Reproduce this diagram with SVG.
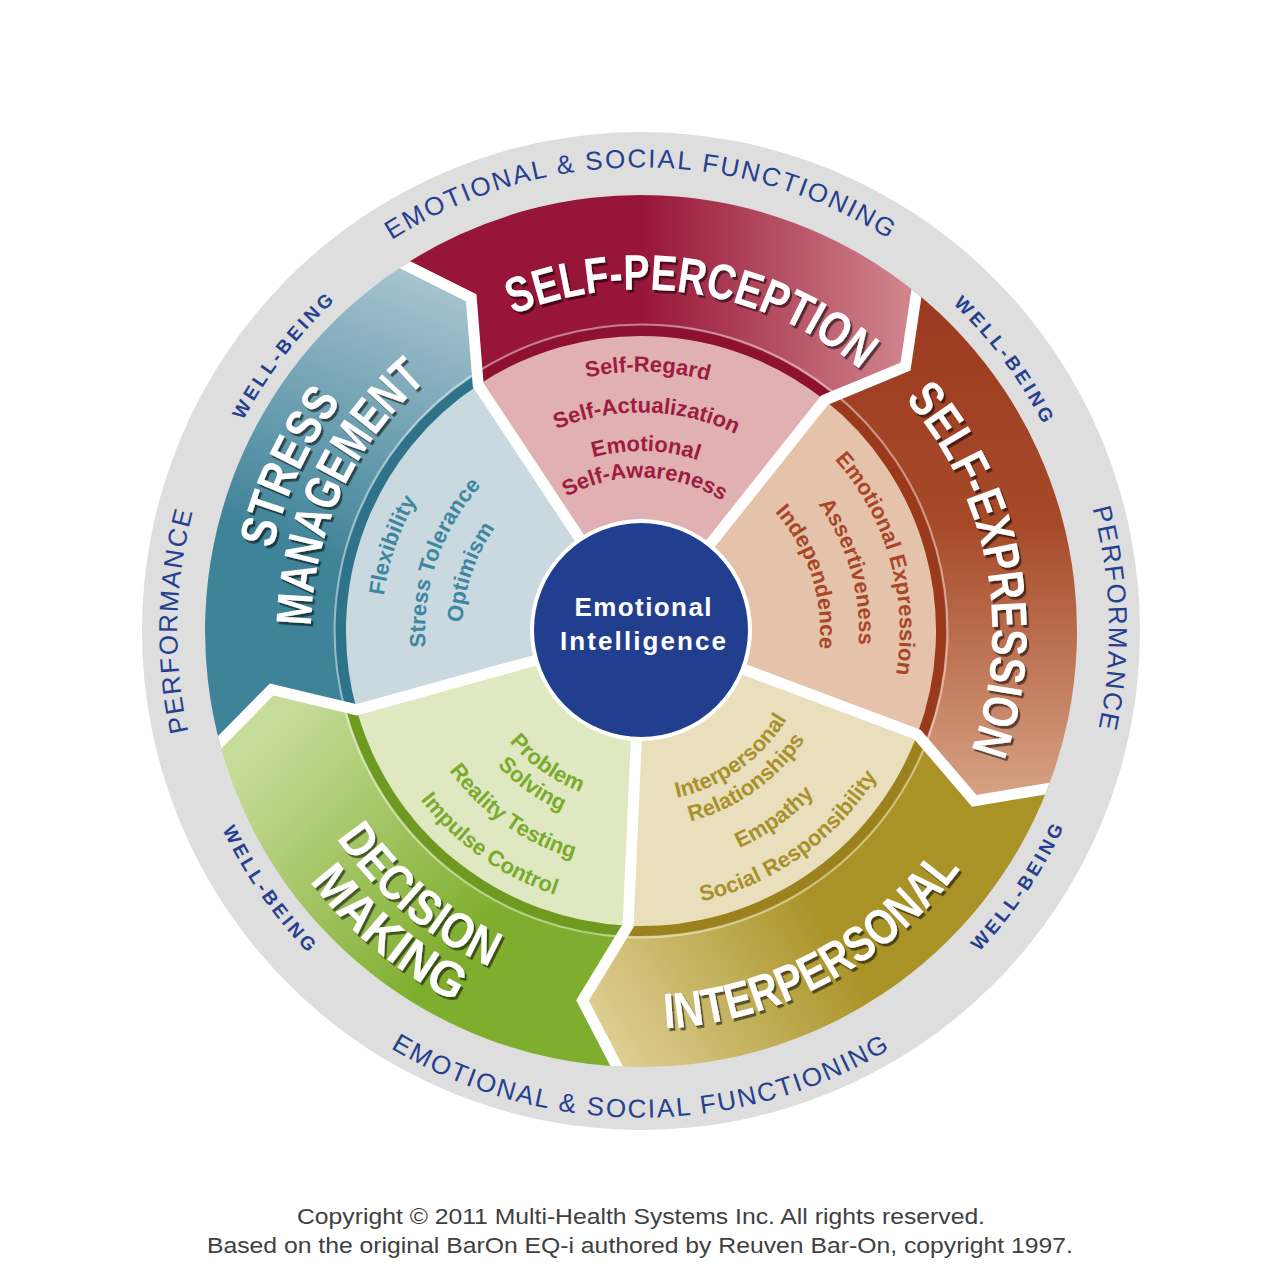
<svg xmlns="http://www.w3.org/2000/svg" width="1280" height="1280" viewBox="0 0 1280 1280">
<defs>
<style>
.ttl{font-family:"Liberation Sans",Arial,sans-serif;font-weight:bold;font-size:50px;fill:#fff;filter:url(#sh);text-anchor:middle}
.in{font-family:"Liberation Sans",Arial,sans-serif;font-weight:bold;font-size:22px;text-anchor:middle}
.out{font-family:"Liberation Sans",Arial,sans-serif;font-size:26px;fill:#25408f;letter-spacing:2px;text-anchor:middle}
.wb{font-family:"Liberation Sans",Arial,sans-serif;font-weight:bold;font-size:19px;fill:#25408f;letter-spacing:3.4px;text-anchor:middle}
.band{fill:none;stroke-width:10}
.hl{fill:none;stroke-width:2;stroke:#fff;stroke-opacity:0.45}
.div{fill:none;stroke:#fff;stroke-width:11;stroke-linejoin:miter}
.foot{font-family:"Liberation Sans",Arial,sans-serif;font-size:22px;fill:#404040;text-anchor:middle}
</style>
<filter id="sh" x="-10%" y="-20%" width="125%" height="150%"><feDropShadow dx="2.2" dy="2.8" stdDeviation="0.7" flood-color="#000" flood-opacity="0.55"/></filter>
<clipPath id="clipOuter"><circle cx="641" cy="631" r="436"/></clipPath>
<linearGradient id="gSP" gradientUnits="userSpaceOnUse" x1="640" y1="0" x2="905" y2="0"><stop offset="0" stop-color="#971537"/><stop offset="1" stop-color="#d0848c"/></linearGradient>
<linearGradient id="gSE" gradientUnits="userSpaceOnUse" x1="0" y1="300" x2="0" y2="800"><stop offset="0" stop-color="#9c3a1f"/><stop offset="0.45" stop-color="#a64a29"/><stop offset="1" stop-color="#d7a386"/></linearGradient>
<linearGradient id="gIP" gradientUnits="userSpaceOnUse" x1="610" y1="1060" x2="830" y2="920"><stop offset="0" stop-color="#dfd096"/><stop offset="1" stop-color="#a99326"/></linearGradient>
<linearGradient id="gDM" gradientUnits="userSpaceOnUse" x1="240" y1="760" x2="450" y2="960"><stop offset="0" stop-color="#c8dc9a"/><stop offset="1" stop-color="#7fae2e"/></linearGradient>
<linearGradient id="gSM" gradientUnits="userSpaceOnUse" x1="440" y1="280" x2="330" y2="560"><stop offset="0" stop-color="#a8c4d0"/><stop offset="1" stop-color="#3f8399"/></linearGradient>
<path id="pO1" d="M178.8,590.6 A464,464 0 0 1 1103.2,590.6"/>
<path id="pO2" d="M156.8,673.4 A486,486 0 0 0 1125.2,673.4"/>
<path id="pO3" d="M590.1,1092.2 A464,464 0 0 1 611.1,168.0"/>
<path id="pO4" d="M669.6,163.9 A468,468 0 0 1 694.0,1096.0"/>
<path id="pW1" d="M335.8,961.7 A450,450 0 0 1 884.1,252.3"/>
<path id="pW2" d="M404.2,246.0 A452,452 0 0 1 941.1,969.0"/>
<path id="pW3" d="M344.0,275.8 A463,463 0 0 0 871.8,1032.4"/>
<path id="pW4" d="M415.1,1038.6 A466,466 0 0 0 934.3,268.9"/>
<path id="pT1" d="M310.1,548.5 A341,341 0 0 1 981.2,654.8"/>
<path id="pT2" d="M606.1,281.7 A351,351 0 0 1 736.0,968.9"/>
<path id="pT3" d="M308.7,850.1 A398,398 0 0 0 1006.3,473.0"/>
<path id="pT4" d="M339.5,419.9 A368,368 0 0 0 901.2,891.2"/>
<path id="pT5" d="M300.2,394.2 A415,415 0 0 0 935.5,923.4"/>
<path id="pT6" d="M452.5,957.5 A377,377 0 0 1 769.9,276.7"/>
<path id="pT7" d="M475.0,916.2 A330,330 0 0 1 754.9,321.3"/>
<path id="pA1" d="M383.2,601.6 A259.5,259.5 0 0 1 900.0,615.2"/>
<path id="pA2" d="M423.9,606.3 A218.5,218.5 0 0 1 859.1,617.7"/>
<path id="pA3" d="M462.2,610.6 A180,180 0 0 1 820.7,620.0"/>
<path id="pA4" d="M488.5,613.6 A153.5,153.5 0 0 1 794.2,621.6"/>
<path id="pB1" d="M591.6,376.8 A259,259 0 0 1 733.8,872.8"/>
<path id="pB2" d="M599.4,417.0 A218,218 0 0 1 719.1,834.5"/>
<path id="pB3" d="M600.7,456.6 A179,179 0 0 1 710.9,795.8"/>
<path id="pC1" d="M511.0,742.0 A171,171 0 0 0 788.3,544.2"/>
<path id="pC2" d="M491.2,758.9 A197,197 0 0 0 810.7,531.0"/>
<path id="pC3" d="M460.0,785.6 A238,238 0 0 0 846.1,510.2"/>
<path id="pC4" d="M430.4,810.9 A277,277 0 0 0 879.7,490.4"/>
<path id="pD1" d="M492.5,544.2 A172,172 0 0 0 772.2,742.2"/>
<path id="pD2" d="M471.3,531.9 A196.5,196.5 0 0 0 790.9,758.1"/>
<path id="pD3" d="M436.4,511.4 A237,237 0 0 0 821.8,784.3"/>
<path id="pD4" d="M401.4,491.0 A277.5,277.5 0 0 0 852.6,810.5"/>
<path id="pE1" d="M535.5,868.1 A259.5,259.5 0 0 1 703.8,379.2"/>
<path id="pE2" d="M553.2,828.3 A216,216 0 0 1 693.3,421.4"/>
<path id="pE3" d="M568.4,794.1 A178.5,178.5 0 0 1 684.2,457.8"/>
</defs>

<rect width="1280" height="1280" fill="#fff"/>

<g id="outer-ring">
<circle cx="641" cy="631" r="499" fill="#dedede"/>
<text class="out"><textPath href="#pO1" startOffset="50%">EMOTIONAL &amp; SOCIAL FUNCTIONING</textPath></text>
<text class="out"><textPath href="#pO2" startOffset="50%">EMOTIONAL &amp; SOCIAL FUNCTIONING</textPath></text>
<text class="out"><textPath href="#pO3" startOffset="50%">PERFORMANCE</textPath></text>
<text class="out"><textPath href="#pO4" startOffset="50%">PERFORMANCE</textPath></text>
<text class="wb"><textPath href="#pW1" startOffset="50%">WELL-BEING</textPath></text>
<text class="wb"><textPath href="#pW2" startOffset="50%">WELL-BEING</textPath></text>
<text class="wb"><textPath href="#pW3" startOffset="50%">WELL-BEING</textPath></text>
<text class="wb"><textPath href="#pW4" startOffset="50%">WELL-BEING</textPath></text>
</g>

<g id="self-perception">
<path d="M478.2,385.0 L471.2,297.8 L400.4,267.4 A436,436 0 0 1 912.4,289.8 L905.5,366.5 L824.6,400.1 A295,295 0 0 0 478.2,385.0 Z" fill="url(#gSP)"/>
<path d="M641,631 L477.6,384.2 A296,296 0 0 1 825.3,399.4 Z" fill="#e0b0b3"/>
<path class="band" d="M475.4,380.8 A300,300 0 0 1 827.8,396.2" stroke="#8e1230"/>
<path class="hl" d="M471.8,375.4 A306.5,306.5 0 0 1 831.8,391.1"/>
<text class="ttl"><textPath href="#pT1" startOffset="50%" textLength="370" lengthAdjust="spacingAndGlyphs">SELF-PERCEPTION</textPath></text>
<g fill="#9d1c3f">
<text class="in"><textPath href="#pA1" startOffset="50%">Self-Regard</textPath></text>
<text class="in"><textPath href="#pA2" startOffset="50%">Self-Actualization</textPath></text>
<text class="in"><textPath href="#pA3" startOffset="50%">Emotional</textPath></text>
<text class="in"><textPath href="#pA4" startOffset="50%">Self-Awareness</textPath></text>
</g>
</g>

<g id="self-expression">
<path d="M824.6,400.1 L905.5,366.5 L912.4,289.8 A436,436 0 0 1 1049.4,783.7 L974.2,800.8 L917.3,734.3 A295,295 0 0 0 824.6,400.1 Z" fill="url(#gSE)"/>
<path d="M641,631 L825.3,399.4 A296,296 0 0 1 918.3,734.7 Z" fill="#e5c3ab"/>
<path class="band" d="M827.8,396.2 A300,300 0 0 1 922.0,736.1" stroke="#9b3a1b"/>
<path class="hl" d="M831.8,391.1 A306.5,306.5 0 0 1 928.1,738.3"/>
<text class="ttl"><textPath href="#pT2" startOffset="50%" textLength="375" lengthAdjust="spacingAndGlyphs">SELF-EXPRESSION</textPath></text>
<g fill="#a9462a">
<text class="in"><textPath href="#pB1" startOffset="50%">Emotional Expression</textPath></text>
<text class="in"><textPath href="#pB2" startOffset="50%">Assertiveness</textPath></text>
<text class="in"><textPath href="#pB3" startOffset="50%">Independence</textPath></text>
</g>
</g>

<g id="interpersonal">
<path d="M917.3,734.3 L974.2,800.8 L1049.4,783.7 A436,436 0 0 1 622.0,1066.6 L582.5,1000.4 L628.1,925.7 A295,295 0 0 0 917.3,734.3 Z" fill="url(#gIP)"/>
<path d="M641,631 L918.3,734.7 A296,296 0 0 1 628.1,926.7 Z" fill="#e9dfbd"/>
<path class="band" d="M922.0,736.1 A300,300 0 0 1 627.9,930.7" stroke="#9c821e"/>
<path class="hl" d="M928.1,738.3 A306.5,306.5 0 0 1 627.6,937.2"/>
<text class="ttl"><textPath href="#pT3" startOffset="50%" textLength="347" lengthAdjust="spacingAndGlyphs">INTERPERSONAL</textPath></text>
<g fill="#a8912b">
<text class="in"><textPath href="#pC1" startOffset="50%">Interpersonal</textPath></text>
<text class="in"><textPath href="#pC2" startOffset="50%">Relationships</textPath></text>
<text class="in"><textPath href="#pC3" startOffset="50%">Empathy</textPath></text>
<text class="in"><textPath href="#pC4" startOffset="50%">Social Responsibility</textPath></text>
</g>
</g>

<g id="decision-making">
<path d="M628.1,925.7 L582.5,1000.4 L622.0,1066.6 A436,436 0 0 1 220.9,747.5 L271.6,689.5 L356.7,709.8 A295,295 0 0 0 628.1,925.7 Z" fill="url(#gDM)"/>
<path d="M641,631 L628.1,926.7 A296,296 0 0 1 355.8,710.1 Z" fill="#dfe8c1"/>
<path class="band" d="M627.9,930.7 A300,300 0 0 1 351.9,711.2" stroke="#6f9a22"/>
<path class="hl" d="M627.6,937.2 A306.5,306.5 0 0 1 345.7,712.9"/>
<text class="ttl"><textPath href="#pT4" startOffset="50%" textLength="203" lengthAdjust="spacingAndGlyphs">DECISION</textPath></text>
<text class="ttl"><textPath href="#pT5" startOffset="50%" textLength="191" lengthAdjust="spacingAndGlyphs">MAKING</textPath></text>
<g fill="#79ab2d">
<text class="in"><textPath href="#pD1" startOffset="50%">Problem</textPath></text>
<text class="in"><textPath href="#pD2" startOffset="50%">Solving</textPath></text>
<text class="in"><textPath href="#pD3" startOffset="50%">Reality Testing</textPath></text>
<text class="in"><textPath href="#pD4" startOffset="50%">Impulse Control</textPath></text>
</g>
</g>

<g id="stress-management">
<path d="M356.7,709.8 L271.6,689.5 L220.9,747.5 A436,436 0 0 1 400.4,267.4 L471.2,297.8 L478.2,385.0 A295,295 0 0 0 356.7,709.8 Z" fill="url(#gSM)"/>
<path d="M641,631 L355.8,710.1 A296,296 0 0 1 477.6,384.2 Z" fill="#cad8df"/>
<path class="band" d="M351.9,711.2 A300,300 0 0 1 475.4,380.8" stroke="#2e7389"/>
<path class="hl" d="M345.7,712.9 A306.5,306.5 0 0 1 471.8,375.4"/>
<text class="ttl"><textPath href="#pT6" startOffset="50%" textLength="164" lengthAdjust="spacingAndGlyphs">STRESS</textPath></text>
<text class="ttl"><textPath href="#pT7" startOffset="50%" textLength="280" lengthAdjust="spacingAndGlyphs">MANAGEMENT</textPath></text>
<g fill="#3d87a0">
<text class="in"><textPath href="#pE1" startOffset="50%">Flexibility</textPath></text>
<text class="in"><textPath href="#pE2" startOffset="50%">Stress Tolerance</textPath></text>
<text class="in"><textPath href="#pE3" startOffset="50%">Optimism</textPath></text>
</g>
</g>

<g id="connectors" clip-path="url(#clipOuter)">
<path class="div" d="M641,631 L478.2,385.0 L471.2,297.8 L395.4,259.9"/>
<path class="div" d="M641,631 L824.6,400.1 L905.5,366.5 L918.0,282.7"/>
<path class="div" d="M641,631 L917.3,734.3 L974.2,800.8 L1057.8,786.8"/>
<path class="div" d="M641,631 L628.1,925.7 L582.5,1000.4 L621.6,1075.6"/>
<path class="div" d="M641,631 L356.7,709.8 L271.6,689.5 L212.2,749.9"/>
</g>

<g id="emotional-intelligence">
<circle cx="641" cy="630" r="109" fill="#223e8e" stroke="#fff" stroke-width="4"/>
<text x="643" y="616" font-family="Liberation Sans, Arial, sans-serif" font-weight="bold" font-size="26" fill="#fff" text-anchor="middle" textLength="137" lengthAdjust="spacing">Emotional</text>
<text x="643" y="650" font-family="Liberation Sans, Arial, sans-serif" font-weight="bold" font-size="26" fill="#fff" text-anchor="middle" textLength="166" lengthAdjust="spacing">Intelligence</text>
</g>

<g id="footer">
<text class="foot" x="641" y="1224" textLength="688" lengthAdjust="spacingAndGlyphs">Copyright © 2011 Multi-Health Systems Inc. All rights reserved.</text>
<text class="foot" x="640" y="1253" textLength="866" lengthAdjust="spacingAndGlyphs">Based on the original BarOn EQ-i authored by Reuven Bar-On, copyright 1997.</text>
</g>
</svg>
